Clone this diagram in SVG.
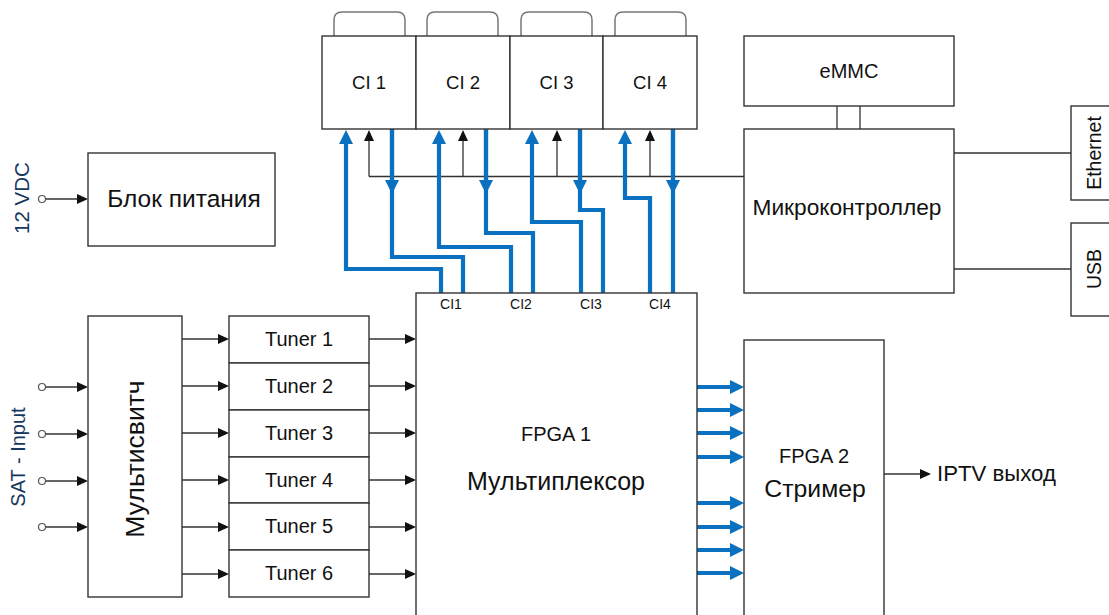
<svg xmlns="http://www.w3.org/2000/svg" width="1109" height="615" viewBox="0 0 1109 615">
<defs>
<style>
.box{fill:#fff;stroke:#333;stroke-width:1.4}
.tab{fill:none;stroke:#777;stroke-width:1.5}
.t{font-family:"Liberation Sans",Arial,sans-serif;fill:#111;text-anchor:middle}
.lab{fill:#17375e}
.thin{fill:none;stroke:#333;stroke-width:1.3}
.blue{fill:none;stroke:#0a70c0;stroke-width:4.2}
.pin{fill:#fff;stroke:#555;stroke-width:1.2}
</style>
<marker id="ab" viewBox="0 0 14 14" markerWidth="14" markerHeight="14" refX="1" refY="7" orient="auto" markerUnits="userSpaceOnUse"><path d="M0,0 L14,7 L0,14 z" fill="#0a70c0"/></marker>
<marker id="ak" viewBox="0 0 11 10" markerWidth="11" markerHeight="10" refX="1" refY="5" orient="auto" markerUnits="userSpaceOnUse"><path d="M0,0 L11,5 L0,10 z" fill="#111"/></marker>
</defs>
<rect width="1109" height="615" fill="#fff"/>

<g id="connectors">
<g class="thin">
<path d="M45.5,199 H78" marker-end="url(#ak)"/>
<path d="M45.5,387 H78" marker-end="url(#ak)"/>
<path d="M45.5,434 H78" marker-end="url(#ak)"/>
<path d="M45.5,481 H78" marker-end="url(#ak)"/>
<path d="M45.5,527 H78" marker-end="url(#ak)"/>
<path d="M182,339 H219" marker-end="url(#ak)"/>
<path d="M182,386 H219" marker-end="url(#ak)"/>
<path d="M182,433 H219" marker-end="url(#ak)"/>
<path d="M182,480 H219" marker-end="url(#ak)"/>
<path d="M182,527 H219" marker-end="url(#ak)"/>
<path d="M182,574 H219" marker-end="url(#ak)"/>
<path d="M369,339 H406" marker-end="url(#ak)"/>
<path d="M369,386 H406" marker-end="url(#ak)"/>
<path d="M369,433 H406" marker-end="url(#ak)"/>
<path d="M369,480 H406" marker-end="url(#ak)"/>
<path d="M369,527 H406" marker-end="url(#ak)"/>
<path d="M369,574 H406" marker-end="url(#ak)"/>
<path d="M369,176.5 H744"/>
<path d="M369,176.5 V140" marker-end="url(#ak)"/>
<path d="M463,176.5 V140" marker-end="url(#ak)"/>
<path d="M557,176.5 V140" marker-end="url(#ak)"/>
<path d="M650,176.5 V140" marker-end="url(#ak)"/>
<path d="M837,106 V129 M860,106 V129"/>
<path d="M954,153 H1071 M954,269 H1071"/>
<path d="M884,474 H921" marker-end="url(#ak)"/>
</g>
<g class="blue">
<path d="M441,293 V269 H346 V143" marker-end="url(#ab)"/>
<path d="M392,129 V257 H463 V293"/>
<path d="M392,129 V181" marker-end="url(#ab)"/>
<path d="M511,293 V247 H439 V143" marker-end="url(#ab)"/>
<path d="M486,129 V233 H533 V293"/>
<path d="M486,129 V181" marker-end="url(#ab)"/>
<path d="M581,293 V222 H532 V143" marker-end="url(#ab)"/>
<path d="M580,129 V210 H603 V293"/>
<path d="M580,129 V181" marker-end="url(#ab)"/>
<path d="M650,293 V198 H625 V143" marker-end="url(#ab)"/>
<path d="M673,129 V293"/>
<path d="M673,129 V181" marker-end="url(#ab)"/>
<path d="M697,387 H731" marker-end="url(#ab)"/>
<path d="M697,410 H731" marker-end="url(#ab)"/>
<path d="M697,433 H731" marker-end="url(#ab)"/>
<path d="M697,457 H731" marker-end="url(#ab)"/>
<path d="M697,503 H731" marker-end="url(#ab)"/>
<path d="M697,527 H731" marker-end="url(#ab)"/>
<path d="M697,550 H731" marker-end="url(#ab)"/>
<path d="M697,573 H731" marker-end="url(#ab)"/>
</g>
</g>

<g id="pins">
<circle class="pin" cx="42" cy="199" r="3.5"/>
<circle class="pin" cx="42" cy="387" r="3.5"/>
<circle class="pin" cx="42" cy="434" r="3.5"/>
<circle class="pin" cx="42" cy="481" r="3.5"/>
<circle class="pin" cx="42" cy="527" r="3.5"/>
</g>

<g id="label-12vdc"><text class="t lab" font-size="20.5" transform="translate(21,198) rotate(-90)" dominant-baseline="central">12 VDC</text></g>
<g id="label-sat"><text class="t lab" font-size="20" transform="translate(18,457) rotate(-90)" dominant-baseline="central">SAT - Input</text></g>

<g id="psu"><rect class="box" x="88" y="153" width="187" height="93"/><text class="t" x="184" y="207" font-size="24.5">Блок питания</text></g>

<g id="multiswitch"><rect class="box" x="88" y="316" width="94" height="281"/><text class="t" font-size="26.5" transform="translate(135,459) rotate(-90)" dominant-baseline="central">Мультисвитч</text></g>

<g id="tuner1"><rect class="box" x="229" y="316" width="140" height="47"/><text class="t" x="299" y="346" font-size="20">Tuner 1</text></g>
<g id="tuner2"><rect class="box" x="229" y="363" width="140" height="47"/><text class="t" x="299" y="393" font-size="20">Tuner 2</text></g>
<g id="tuner3"><rect class="box" x="229" y="410" width="140" height="47"/><text class="t" x="299" y="440" font-size="20">Tuner 3</text></g>
<g id="tuner4"><rect class="box" x="229" y="457" width="140" height="46"/><text class="t" x="299" y="487" font-size="20">Tuner 4</text></g>
<g id="tuner5"><rect class="box" x="229" y="503" width="140" height="47"/><text class="t" x="299" y="533" font-size="20">Tuner 5</text></g>
<g id="tuner6"><rect class="box" x="229" y="550" width="140" height="47"/><text class="t" x="299" y="580" font-size="20">Tuner 6</text></g>

<g id="ci1"><path class="tab" d="M334,36 V20 Q334,12 342,12 H397 Q405,12 405,20 V36"/><rect class="box" x="322" y="36" width="94" height="93"/><text class="t" x="369" y="89" font-size="18.5">CI 1</text></g>
<g id="ci2"><path class="tab" d="M427,36 V20 Q427,12 435,12 H490 Q498,12 498,20 V36"/><rect class="box" x="416" y="36" width="94" height="93"/><text class="t" x="463" y="89" font-size="18.5">CI 2</text></g>
<g id="ci3"><path class="tab" d="M521,36 V20 Q521,12 529,12 H584 Q592,12 592,20 V36"/><rect class="box" x="510" y="36" width="93" height="93"/><text class="t" x="556.5" y="89" font-size="18.5">CI 3</text></g>
<g id="ci4"><path class="tab" d="M615,36 V20 Q615,12 623,12 H678 Q686,12 686,20 V36"/><rect class="box" x="603" y="36" width="94" height="93"/><text class="t" x="650" y="89" font-size="18.5">CI 4</text></g>

<g id="fpga1"><rect class="box" x="416" y="293" width="281" height="340"/>
<text class="t" x="451" y="309" font-size="14">CI1</text>
<text class="t" x="521" y="309" font-size="14">CI2</text>
<text class="t" x="591" y="309" font-size="14">CI3</text>
<text class="t" x="660" y="309" font-size="14">CI4</text>
<text class="t" x="556" y="441" font-size="20">FPGA 1</text>
<text class="t" x="556" y="490" font-size="25">Мультиплексор</text></g>

<g id="fpga2"><rect class="box" x="744" y="340" width="140" height="290"/>
<text class="t" x="814" y="463" font-size="20">FPGA 2</text>
<text class="t" x="815" y="497" font-size="24.8">Стример</text></g>

<g id="iptv"><text class="t" x="937" y="481" font-size="22.2" style="text-anchor:start">IPTV выход</text></g>

<g id="emmc"><rect class="box" x="744" y="36" width="210" height="70"/><text class="t" x="849" y="78" font-size="20">eMMC</text></g>
<g id="mcu"><rect class="box" x="744" y="129" width="210" height="164"/><text class="t" x="847" y="215" font-size="22.7">Микроконтроллер</text></g>

<g id="ethernet"><rect class="box" x="1071" y="106" width="50" height="94"/><text class="t" font-size="19.5" transform="translate(1094,153) rotate(-90)" dominant-baseline="central">Ethernet</text></g>
<g id="usb"><rect class="box" x="1071" y="223" width="50" height="93"/><text class="t" font-size="19.5" transform="translate(1094,269) rotate(-90)" dominant-baseline="central">USB</text></g>
</svg>
